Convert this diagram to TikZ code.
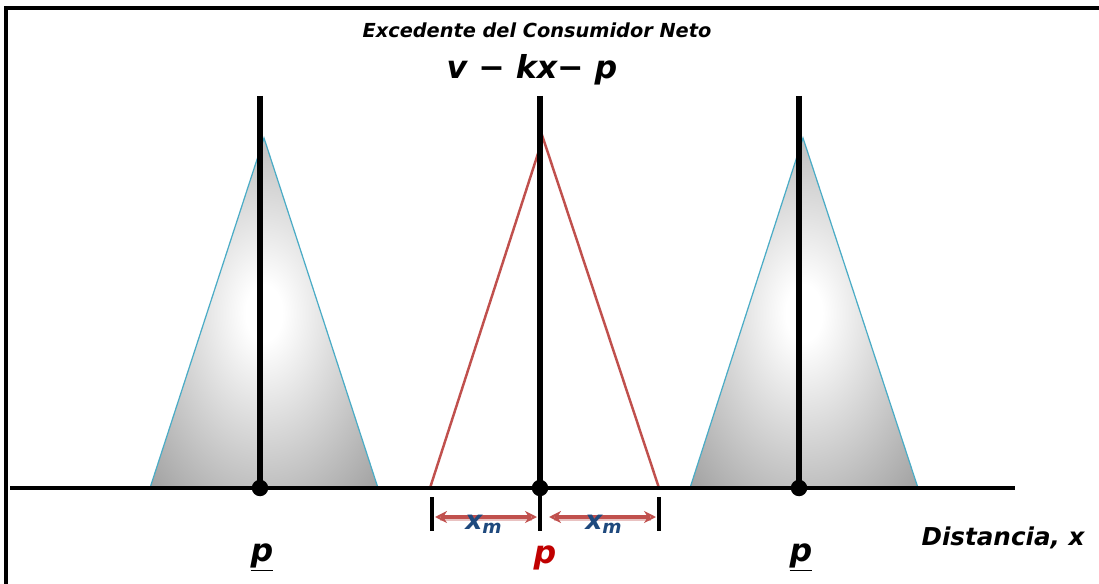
\documentclass[tikz,border=0pt]{standalone}
\usepackage{fontspec}
\setmainfont{DejaVu Sans}
\usepackage{xcolor}
\usetikzlibrary{arrows.meta, positioning, calc}
\definecolor{cRed}{RGB}{192,80,77}
\definecolor{cPriceRed}{RGB}{192,0,0}
\definecolor{cBlue}{RGB}{31,73,125}
\definecolor{cCyan}{RGB}{75,172,198}
\pgfdeclareradialshading{coneglow}{\pgfpointorigin}{color(0bp)=(white); color(4bp)=(white); color(38bp)=(black!40); color(60bp)=(black!50)}
\tikzset{
	frameline/.style={line width=2pt, black},
	axisline/.style ={line width=2.5pt, black},
	stem/.style     ={line width=3pt, black},
	tick/.style     ={line width=2.6pt, black},
	dot/.style      ={circle, fill=black, inner sep=0pt, minimum size=0.33cm},
	cone/.style     ={shading=coneglow, draw=cCyan, line width=0.7pt},
	margin/.style   ={draw=cRed, line width=1.4pt},
	span/.style     ={{Stealth[length=2.4mm, width=2.4mm, open]}-{Stealth[length=2.4mm, width=2.4mm, open]}, draw=cRed, line width=1.8pt},
	spanglow/.style ={draw=cRed!35, line width=1.4pt},
	lbl/.style      ={font=\bfseries\itshape, inner sep=0pt},
}

\begin{document}
\begin{tikzpicture}[x=0.02cm, y=-0.02cm]
	\useasboundingbox (0,0) rectangle (1099,584);
	% frame (only top and left edges show)
	\draw[frameline] (6,584) -- (6,8) -- (1099,8);

	% heading
	\node[lbl, font=\fontsize{11}{13}\selectfont\bfseries\itshape] (ttl) at (537,30) {Excedente del Consumidor Neto};
	\node[lbl, font=\fontsize{18}{20}\selectfont\bfseries\itshape] (eq) at (532,70) {v − kx− p};

	% neighbouring cones
	\shade[cone] (150,488) -- (264,138) -- (378,488) -- cycle;
	\shade[cone] (690,488) -- (803,138) -- (918,488) -- cycle;

	% market area of the middle firm
	\coordinate (mA) at (543,138);
	\coordinate (mL) at (430,488);
	\coordinate (mR) at (659,488);
	\draw[margin] (mL) -- (mA) -- (mR);

	% axis
	\coordinate (ax0) at (10,488);
	\coordinate (ax1) at (1015,488);
	\draw[axisline] (ax0) -- (ax1);

	% firms on the line
	\node[dot] (pL) at (260,488) {};
	\node[dot] (pM) at (540,488) {};
	\node[dot] (pR) at (799,488) {};

	% stems
	\coordinate (tL) at (260,96);
	\coordinate (tM) at (540,96);
	\coordinate (tR) at (799,96);
	\draw[stem] (tL) -- (pL.center);
	\draw[stem] (tM) -- (pM.center);
	\draw[stem] (tR) -- (pR.center);

	% x_m markers
	\coordinate (kL0) at (432,497);
	\coordinate (kL1) at (432,531);
	\coordinate (kM1) at (540,531);
	\coordinate (kR0) at (659,497);
	\coordinate (kR1) at (659,531);
	\draw[tick] (kL0) -- (kL1);
	\draw[tick] (pM.center) -- (kM1);
	\draw[tick] (kR0) -- (kR1);
	\coordinate (aL0) at (435,517);
	\coordinate (aL1) at (537,517);
	\coordinate (aR0) at (549,517);
	\coordinate (aR1) at (656,517);
	\draw[spanglow] ($(aL0)+(5,3)$) -- ($(aL1)+(-5,3)$);
	\draw[spanglow] ($(aR0)+(5,3)$) -- ($(aR1)+(-5,3)$);
	\draw[span] (aL0) -- (aL1);
	\draw[span] (aR0) -- (aR1);
	\node[lbl, text=cBlue, font=\fontsize{15}{17}\selectfont\bfseries\itshape] (xmL) at (484,524) {x\textsubscript{m}};
	\node[lbl, text=cBlue, font=\fontsize{15}{17}\selectfont\bfseries\itshape] (xmR) at (604,524) {x\textsubscript{m}};

	% price labels
	\node[lbl, font=\fontsize{18}{20}\selectfont\bfseries\itshape] (prL) at (262,558) {\underline{p}};
	\node[lbl, text=cPriceRed, font=\fontsize{18}{20}\selectfont\bfseries\itshape] (prM) at (545,558) {p};
	\node[lbl, font=\fontsize{18}{20}\selectfont\bfseries\itshape] (prR) at (801,558) {\underline{p}};

	\node[lbl, font=\fontsize{14}{16}\selectfont\bfseries\itshape] (dist) at (1003,538) {Distancia, x};
\end{tikzpicture}
\end{document}
